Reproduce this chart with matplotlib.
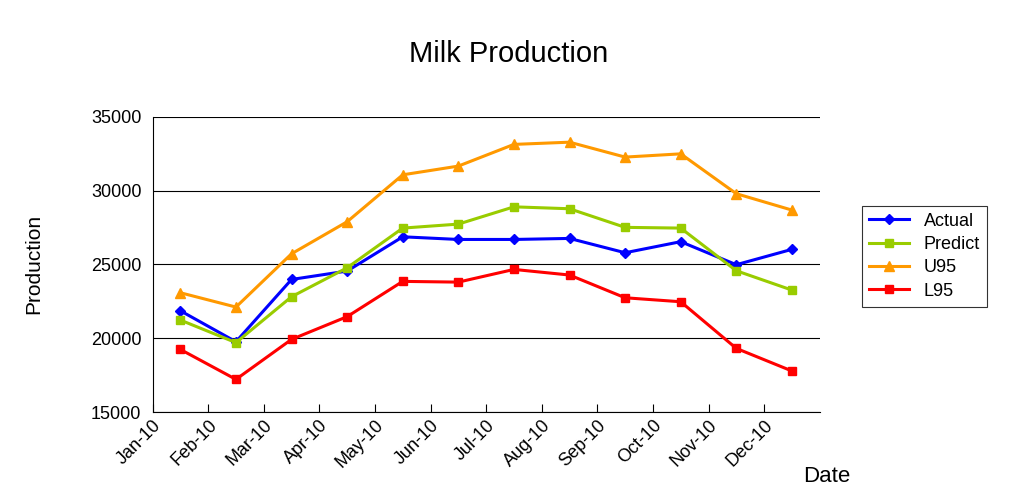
import matplotlib
matplotlib.use("Agg")
import matplotlib.pyplot as plt
plt.rcParams['font.family'] = ['Liberation Sans', 'DejaVu Sans']

months = ["Jan-10","Feb-10","Mar-10","Apr-10","May-10","Jun-10","Jul-10","Aug-10","Sep-10","Oct-10","Nov-10","Dec-10"]
actual = [21860,19760,23980,24550,26870,26690,26690,26760,25790,26540,24980,26020]
predict = [21230,19700,22810,24770,27460,27730,28900,28770,27510,27460,24570,23260]
u95 = [23080,22110,25720,27890,31070,31660,33130,33280,32270,32490,29790,28680]
l95 = [19240,17210,19920,21460,23850,23800,24660,24280,22740,22470,19310,17780]

fig = plt.figure(figsize=(10.17,4.97), dpi=100)
ax = fig.add_axes([0.150,0.171,0.656,0.594])
x = list(range(len(months)))
ax.plot(x, actual, color="#0000FF", marker="D", ms=5, lw=2.2, label="Actual")
ax.plot(x, predict, color="#99CC00", marker="s", ms=6, lw=2.2, label="Predict")
ax.plot(x, u95, color="#FF9900", marker="^", ms=7, lw=2.2, label="U95")
ax.plot(x, l95, color="#FF0000", marker="s", ms=6, lw=2.2, label="L95")
ax.set_xlim(-0.5, 11.5)
ax.set_ylim(15000, 35000)
ax.set_yticks(range(15000,35001,5000))
ax.yaxis.grid(True, color="black", lw=0.8)
ax.set_axisbelow(True)
ax.set_xticks([i-0.5 for i in x])
ax.set_xticklabels(months, rotation=45, ha="right", rotation_mode="anchor", fontsize=13)
ax.tick_params(axis="y", labelsize=13, length=0, pad=8)
ax.tick_params(axis="x", direction="in", length=6)
for s in ["top","right"]:
    ax.spines[s].set_visible(False)
ax.set_ylabel("Production", fontsize=15, labelpad=34)
fig.text(0.79, 0.03, "Date", fontsize=16)
fig.text(0.5, 0.875, "Milk Production", fontsize=21, ha="center")
leg = ax.legend(loc="upper left", bbox_to_anchor=(1.05,0.73), fontsize=13, frameon=True,
                fancybox=False, edgecolor="black", handlelength=2.2, borderpad=0.4, labelspacing=0.35)
leg.get_frame().set_linewidth(0.8)
fig.savefig("out.png")
